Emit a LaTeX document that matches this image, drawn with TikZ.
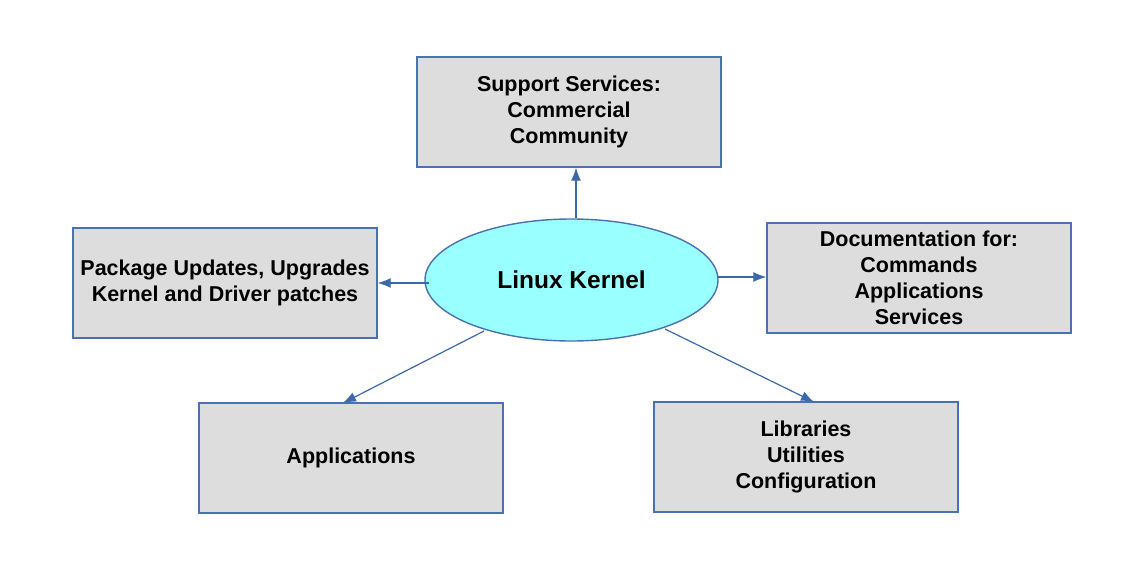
\documentclass[tikz,border=0pt]{standalone}
\usepackage{fontspec}
\setmainfont{Liberation Sans}
\usetikzlibrary{arrows.meta,shapes.geometric}
\definecolor{boxfill}{HTML}{DDDDDD}
\definecolor{edge}{HTML}{4A72B0}
\definecolor{arrowc}{HTML}{3A68A8}
\definecolor{kern}{HTML}{99FFFF}
\begin{document}
\begin{tikzpicture}[x=1pt,y=-1pt,
  infobox/.style={draw=edge,fill=boxfill,line width=1.4pt,minimum width=304pt,minimum height=110pt,align=center,inner sep=0pt,font=\fontsize{21.5}{26}\selectfont\bfseries},
  kernel/.style={ellipse,draw=edge,fill=kern,line width=1.4pt,minimum width=293pt,minimum height=122pt,inner sep=0pt,font=\fontsize{24.5}{26}\selectfont\bfseries},
  link/.style={draw=arrowc,line width=1.2pt,-{Latex[length=13pt,width=10pt]}}]
\useasboundingbox (0,0) rectangle (1126,580);
\node[kernel] (k) at (571.5,280) {Linux Kernel};
\node[infobox] (sup) at (569,112) {Support Services:\\Commercial\\Community};
\node[infobox] (pkg) at (225,283) {Package Updates, Upgrades\\Kernel and Driver patches};
\node[infobox] (doc) at (919,278) {Documentation for:\\Commands\\Applications\\Services};
\node[infobox] (app) at (351,458) {Applications};
\node[infobox] (lib) at (806,457) {Libraries\\Utilities\\Configuration};
\coordinate (kt) at (576,218);
\coordinate (kl) at (429,283);
\coordinate (kr) at (718,277);
\coordinate (kbl) at (484,331);
\coordinate (kbr) at (665,329);
\draw[link] (kt) -- (sup.south -| kt);
\draw[link] (kl) -- (pkg.east |- kl);
\draw[link] (kr) -- (doc.west |- kr);
\draw[link] (kbl) -- (343,403);
\draw[link] (kbr) -- (814,402);
\end{tikzpicture}
\end{document}
